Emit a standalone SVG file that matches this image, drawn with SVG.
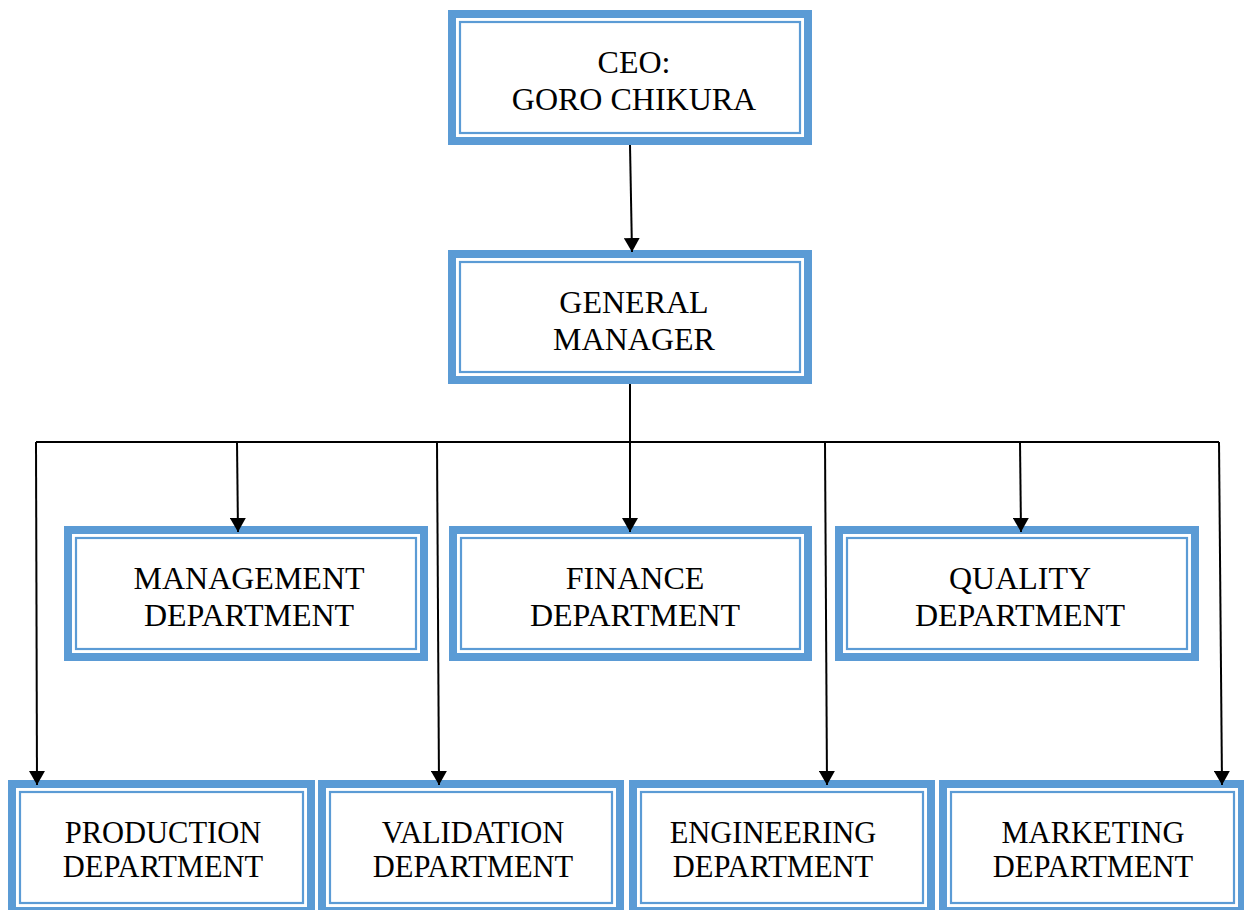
<svg xmlns="http://www.w3.org/2000/svg" width="1244" height="910" viewBox="0 0 1244 910">
<defs>
<style>
.outer{fill:#fff;stroke:#5b9bd5;stroke-width:8}
.inner{fill:none;stroke:#5b9bd5;stroke-width:2.2}
.c{stroke:#000;stroke-width:2;fill:none}
</style>
<marker id="arr" markerUnits="userSpaceOnUse" markerWidth="16" markerHeight="16" refX="14" refY="8" orient="auto">
<path d="M0,0 L14,8 L0,16 z" fill="#000"/>
</marker>
</defs>
<rect width="1244" height="910" fill="#fff"/>
<g font-family="'Liberation Serif', 'Times New Roman', 'DejaVu Serif', serif" font-size="32" text-anchor="middle" fill="#000">
<g id="ceo">
<rect class="outer" x="452" y="14" width="356" height="127"/>
<rect class="inner" x="460" y="22" width="340" height="111"/>
<text x="634" y="73">CEO:</text>
<text x="634" y="110">GORO CHIKURA</text>
</g>
<g id="gm">
<rect class="outer" x="452" y="254" width="356" height="126"/>
<rect class="inner" x="460" y="262" width="340" height="110"/>
<text x="634" y="313">GENERAL</text>
<text x="634" y="350">MANAGER</text>
</g>
<g id="management">
<rect class="outer" x="68" y="530" width="356" height="127"/>
<rect class="inner" x="76" y="538" width="340" height="111"/>
<text x="249" y="589">MANAGEMENT</text>
<text x="249" y="626">DEPARTMENT</text>
</g>
<g id="finance">
<rect class="outer" x="453" y="530" width="355" height="127"/>
<rect class="inner" x="461" y="538" width="339" height="111"/>
<text x="635" y="589">FINANCE</text>
<text x="635" y="626">DEPARTMENT</text>
</g>
<g id="quality">
<rect class="outer" x="839" y="530" width="356" height="127"/>
<rect class="inner" x="847" y="538" width="340" height="111"/>
<text x="1020" y="589">QUALITY</text>
<text x="1020" y="626">DEPARTMENT</text>
</g>
<g font-size="30.5">
<g id="production">
<rect class="outer" x="12" y="784" width="299" height="127"/>
<rect class="inner" x="20" y="792" width="283" height="111"/>
<text x="163" y="843">PRODUCTION</text>
<text x="163" y="877">DEPARTMENT</text>
</g>
<g id="validation">
<rect class="outer" x="322" y="784" width="298" height="127"/>
<rect class="inner" x="330" y="792" width="282" height="111"/>
<text x="473" y="843">VALIDATION</text>
<text x="473" y="877">DEPARTMENT</text>
</g>
<g id="engineering">
<rect class="outer" x="633" y="784" width="298" height="127"/>
<rect class="inner" x="641" y="792" width="282" height="111"/>
<text x="773" y="843">ENGINEERING</text>
<text x="773" y="877">DEPARTMENT</text>
</g>
<g id="marketing">
<rect class="outer" x="943" y="784" width="299" height="127"/>
<rect class="inner" x="951" y="792" width="283" height="111"/>
<text x="1093" y="843">MARKETING</text>
<text x="1093" y="877">DEPARTMENT</text>
</g>
</g>
</g>
<g id="connectors">
<line class="c" x1="630" y1="145" x2="632" y2="252" marker-end="url(#arr)"/>
<line class="c" x1="630" y1="384" x2="630" y2="442"/>
<line class="c" x1="36" y1="442" x2="1219" y2="442"/>
<line class="c" x1="36" y1="442" x2="37" y2="785" marker-end="url(#arr)"/>
<line class="c" x1="237" y1="442" x2="238" y2="532" marker-end="url(#arr)"/>
<line class="c" x1="437" y1="442" x2="439" y2="785" marker-end="url(#arr)"/>
<line class="c" x1="630" y1="442" x2="630" y2="532" marker-end="url(#arr)"/>
<line class="c" x1="825" y1="442" x2="827" y2="785" marker-end="url(#arr)"/>
<line class="c" x1="1020" y1="442" x2="1021" y2="532" marker-end="url(#arr)"/>
<line class="c" x1="1219" y1="442" x2="1222" y2="785" marker-end="url(#arr)"/>
</g>
</svg>
